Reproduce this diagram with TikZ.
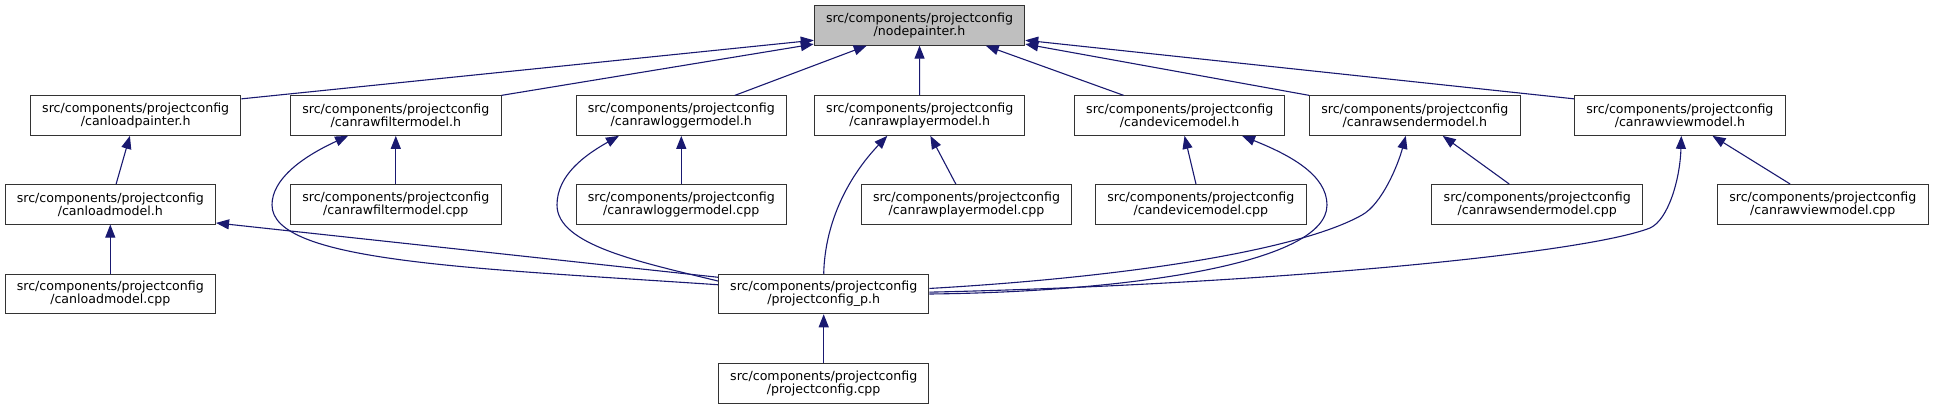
\documentclass[tikz,border=0pt]{standalone}
\usepackage{fontspec}
\setmainfont{DejaVu Sans}
\usetikzlibrary{arrows.meta}
\definecolor{edgeblue}{HTML}{191970}
\definecolor{curfile}{HTML}{BFBFBF}

\begin{document}
\begin{tikzpicture}[x=1pt,y=-1pt,
  filenode/.style={rectangle,draw=black!80,line width=1pt,fill=white,minimum width=210.5pt,minimum height=39.5pt,inner sep=0pt,align=center,font=\fontsize{12.6}{13}\selectfont},
  incl/.style={-{Triangle[length=13pt,width=10pt]},color=edgeblue,line width=1.1pt}]
\useasboundingbox (0,0) rectangle (1933,409);
% the header itself
\node[filenode,fill=curfile] (nodepainter) at (919.5,25.4) {src/components/projectconfig\\/nodepainter.h};
% headers that include it
\node[filenode] (loadpainter) at (135.7,115.6) {src/components/projectconfig\\/canloadpainter.h};
\node[filenode] (filterh) at (395.8,115.6) {src/components/projectconfig\\/canrawfiltermodel.h};
\node[filenode] (loggerh) at (681.3,115.6) {src/components/projectconfig\\/canrawloggermodel.h};
\node[filenode] (playerh) at (919.7,115.6) {src/components/projectconfig\\/canrawplayermodel.h};
\node[filenode] (deviceh) at (1179.7,115.6) {src/components/projectconfig\\/candevicemodel.h};
\node[filenode] (senderh) at (1414.8,115.6) {src/components/projectconfig\\/canrawsendermodel.h};
\node[filenode] (viewh) at (1679.9,115.6) {src/components/projectconfig\\/canrawviewmodel.h};
% third row
\node[filenode] (loadmodelh) at (110.3,204.3) {src/components/projectconfig\\/canloadmodel.h};
\node[filenode] (filtercpp) at (395.8,204.3) {src/components/projectconfig\\/canrawfiltermodel.cpp};
\node[filenode] (loggercpp) at (681.3,204.3) {src/components/projectconfig\\/canrawloggermodel.cpp};
\node[filenode] (playercpp) at (966.5,204.3) {src/components/projectconfig\\/canrawplayermodel.cpp};
\node[filenode] (devicecpp) at (1200.8,204.3) {src/components/projectconfig\\/candevicemodel.cpp};
\node[filenode] (sendercpp) at (1537.2,204.3) {src/components/projectconfig\\/canrawsendermodel.cpp};
\node[filenode] (viewcpp) at (1822.8,204.3) {src/components/projectconfig\\/canrawviewmodel.cpp};
% bottom rows
\node[filenode] (loadmodelcpp) at (110.3,294) {src/components/projectconfig\\/canloadmodel.cpp};
\node[filenode] (configph) at (823.7,294) {src/components/projectconfig\\/projectconfig\_p.h};
\node[filenode] (configcpp) at (823.7,383.3) {src/components/projectconfig\\/projectconfig.cpp};

% edges to nodepainter.h
\draw[incl] (loadpainter.9) -- (nodepainter.188);
\draw[incl] (filterh.north east) -- (nodepainter.190);
\draw[incl] (loggerh) -- (nodepainter.201);
\draw[incl] (playerh) -- (nodepainter);
\draw[incl] (deviceh) -- (nodepainter.343);
\draw[incl] (senderh.north west) -- (nodepainter.350);
\draw[incl] (viewh.171) -- (nodepainter.352);

% sources and second level headers
\draw[incl] (loadmodelh) -- (loadpainter);
\draw[incl] (filtercpp) -- (filterh);
\draw[incl] (loggercpp) -- (loggerh);
\draw[incl] (playercpp) -- (playerh);
\draw[incl] (devicecpp) -- (deviceh);
\draw[incl] (sendercpp) -- (senderh);
\draw[incl] (viewcpp) -- (viewh);
\draw[incl] (loadmodelcpp) -- (loadmodelh);
\draw[incl] (configcpp) -- (configph);

% projectconfig_p.h includes all of them
\draw[incl] (configph.171) -- (loadmodelh.350);
\draw[incl] (configph.175) .. controls (470,268) and (272,262) .. (272,205) .. controls (272,180) and (300,158) .. (filterh.203);
\draw[incl] (configph.173) .. controls (640,262) and (557,245) .. (557,205) .. controls (557,175) and (585,155) .. (loggerh.198);
\draw[incl] (configph.north) .. controls (825,220) and (850,175) .. (playerh.212);
\draw[incl] (configph.east) .. controls (1120,292) and (1327,265) .. (1327,205) .. controls (1327,175) and (1290,155) .. (deviceh.342);
\draw[incl] (configph.3) .. controls (1130,277) and (1300,250) .. (1362,215) .. controls (1382,204) and (1398,165) .. (senderh.246);
\draw[incl] (configph.1) .. controls (1250,285) and (1580,255) .. (1650,228) .. controls (1668,220) and (1680,180) .. (viewh.274);

\end{tikzpicture}
\end{document}
